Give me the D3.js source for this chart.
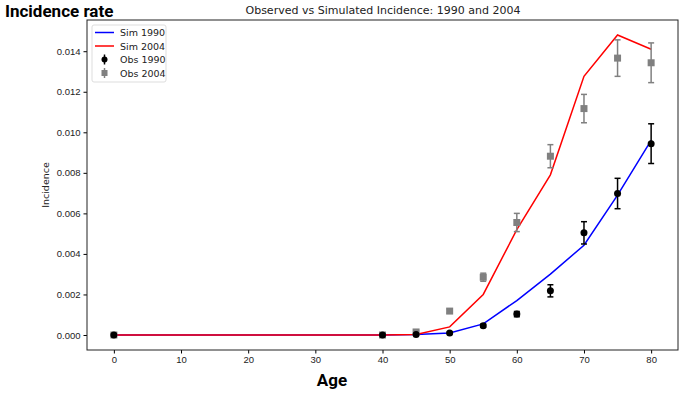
<!DOCTYPE html>
<html>
<head>
<meta charset="utf-8">
<script src="https://cdn.jsdelivr.net/npm/d3@7"></script>
<style>
  body { margin: 0; background: #fff; }
  svg { display: block; font-family: "DejaVu Sans", sans-serif; }
</style>
</head>
<body>
<div id="chart"></div>
<script>
// data
const ages = [0, 40, 45, 50, 55, 60, 65, 70, 75, 80];
const sim1990 = [0, 0, 0.00003, 0.0001, 0.00055, 0.0017, 0.003, 0.00443, 0.0069, 0.0096];
const sim2004 = [0, 0, 0.00003, 0.0004, 0.002, 0.0052, 0.0079, 0.01276, 0.0148, 0.0141];
const obs1990 = [0, 0, 0.00003, 0.0001, 0.00046, 0.00103, 0.00218, 0.00504, 0.00698, 0.00944];
const err1990 = [0.00003, 0.00003, 0.00003, 0.00004, 0.00008, 0.00013, 0.0003, 0.00055, 0.00075, 0.00098];
const obs2004 = [0, 0, 0.00015, 0.00118, 0.00285, 0.00555, 0.00882, 0.01117, 0.01366, 0.01343];
const err2004 = [0.00003, 0.00004, 0.00006, 0.0001, 0.0002, 0.00045, 0.00057, 0.0007, 0.0009, 0.00098];
const xTicks = [0, 10, 20, 30, 40, 50, 60, 70, 80];
const yTicks = [0, 0.002, 0.004, 0.006, 0.008, 0.010, 0.012, 0.014];

let width = 687, height = 397,
    margin = ({ top: 20, right: 9, bottom: 47, left: 87 });

const svg = d3.select("#chart")
  .append("svg")
  .attr("width", width)
  .attr("height", height);

let x = d3.scaleLinear()
  .domain([-4, 84])
  .range([margin.left, width - margin.right]);

let y = d3.scaleLinear()
  .domain([-0.00074, 0.01554])
  .range([height - margin.bottom, margin.top]);

// axes
svg.append("g")
  .attr("transform", `translate(0,${height - margin.bottom})`)
  .call(d3.axisBottom(x).tickValues(xTicks).tickSize(3.5).tickPadding(3))
  .call(g => g.selectAll("text").attr("font-size", 9.5).attr("fill", "#222"));

svg.append("g")
  .attr("transform", `translate(${margin.left},0)`)
  .call(d3.axisLeft(y).tickValues(yTicks).tickFormat(d3.format(".3f")).tickSize(3.5).tickPadding(3))
  .call(g => g.selectAll("text").attr("font-size", 9.5).attr("fill", "#222"));

// frame
svg.append("rect")
  .attr("x", margin.left).attr("y", margin.top)
  .attr("width", width - margin.left - margin.right)
  .attr("height", height - margin.top - margin.bottom)
  .attr("fill", "none").attr("stroke", "#222").attr("stroke-width", 1);

svg.selectAll(".domain").remove();

// lines
const line = d3.line().x((d, i) => x(ages[i])).y(d => y(d));
svg.append("path").datum(sim1990).attr("d", line)
  .attr("fill", "none").attr("stroke", "#0000ff").attr("stroke-width", 1.5);
svg.append("path").datum(sim2004).attr("d", line)
  .attr("fill", "none").attr("stroke", "#ff0000").attr("stroke-width", 1.5);

// error bars
function errorBars(vals, errs, color) {
  const g = svg.append("g").attr("stroke", color).attr("stroke-width", 1.5);
  vals.forEach((v, i) => {
    const cx = x(ages[i]);
    g.append("line").attr("x1", cx).attr("x2", cx).attr("y1", y(v - errs[i])).attr("y2", y(v + errs[i]));
    [v - errs[i], v + errs[i]].forEach(e => {
      g.append("line").attr("x1", cx - 3).attr("x2", cx + 3).attr("y1", y(e)).attr("y2", y(e));
    });
  });
}
errorBars(obs2004, err2004, "#808080");
errorBars(obs1990, err1990, "#000");

svg.append("g").selectAll("rect")
  .data(obs2004)
  .join("rect")
  .attr("x", (d, i) => x(ages[i]) - 3.5)
  .attr("y", d => y(d) - 3.5)
  .attr("width", 7).attr("height", 7)
  .attr("fill", "#808080");

svg.append("g").selectAll("circle")
  .data(obs1990)
  .join("circle")
  .attr("cx", (d, i) => x(ages[i]))
  .attr("cy", d => y(d))
  .attr("r", 3.5)
  .attr("fill", "#000");

// legend
const lg = svg.append("g").attr("transform", "translate(92,25)");
lg.append("rect").attr("width", 74).attr("height", 57).attr("rx", 2)
  .attr("fill", "#fff").attr("stroke", "#ddd");
const items = [
  { label: "Sim 1990", type: "line", color: "#0000ff" },
  { label: "Sim 2004", type: "line", color: "#ff0000" },
  { label: "Obs 1990", type: "circle", color: "#000" },
  { label: "Obs 2004", type: "square", color: "#808080" }
];
items.forEach((it, i) => {
  const yy = 7.5 + i * 13.5;
  if (it.type === "line") {
    lg.append("line").attr("x1", 3).attr("x2", 22).attr("y1", yy).attr("y2", yy)
      .attr("stroke", it.color).attr("stroke-width", 1.5);
  } else {
    lg.append("line").attr("x1", 12.5).attr("x2", 12.5).attr("y1", yy - 5).attr("y2", yy + 5)
      .attr("stroke", it.color).attr("stroke-width", 1.5);
    if (it.type === "circle") lg.append("circle").attr("cx", 12.5).attr("cy", yy).attr("r", 3).attr("fill", it.color);
    else lg.append("rect").attr("x", 9.5).attr("y", yy - 3).attr("width", 6).attr("height", 6).attr("fill", it.color);
  }
  lg.append("text").attr("x", 28).attr("y", yy + 3.5).attr("font-size", 9.5).attr("fill", "#222").text(it.label);
});

// titles
svg.append("text").attr("x", 383).attr("y", 14).attr("text-anchor", "middle")
  .attr("font-size", 11).attr("fill", "#222").text("Observed vs Simulated Incidence: 1990 and 2004");
svg.append("text").attr("x", 5).attr("y", 17)
  .attr("font-family", "Roboto, sans-serif").attr("font-weight", "bold").attr("font-size", 17)
  .text("Incidence rate");
svg.append("text").attr("x", 332).attr("y", 386).attr("text-anchor", "middle")
  .attr("font-family", "Roboto, sans-serif").attr("font-weight", "bold").attr("font-size", 17)
  .text("Age");
svg.append("text")
  .attr("transform", `translate(49,${(margin.top + height - margin.bottom) / 2}) rotate(-90)`)
  .attr("text-anchor", "middle").attr("font-size", 9.5).attr("fill", "#222").text("Incidence");
</script>
</body>
</html>
